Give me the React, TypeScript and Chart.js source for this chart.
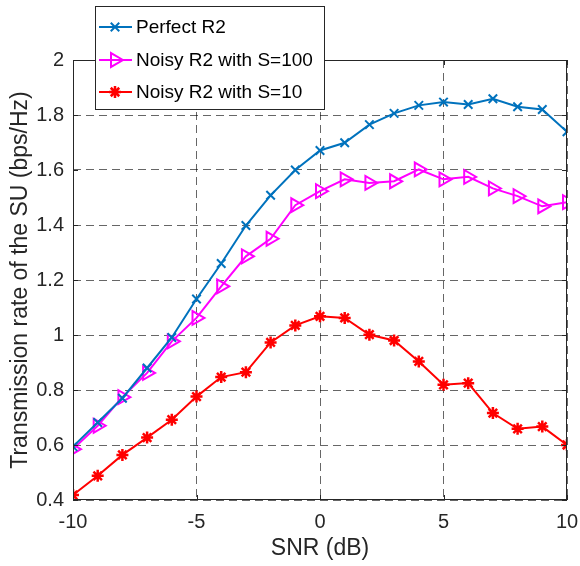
import React, { useEffect, useRef } from "react";
import { Chart, registerables } from "chart.js";

Chart.register(...registerables);

const snr = [-10, -9, -8, -7, -6, -5, -4, -3, -2, -1, 0, 1, 2, 3, 4, 5, 6, 7, 8, 9, 10];
const perfectR2 = [0.594, 0.682, 0.77, 0.88, 0.991, 1.131, 1.26, 1.398, 1.508, 1.6, 1.671, 1.699, 1.765, 1.806, 1.835, 1.847, 1.838, 1.859, 1.83, 1.82, 1.739];
const noisyS100 = [0.585, 0.67, 0.774, 0.862, 0.977, 1.062, 1.177, 1.286, 1.35, 1.472, 1.523, 1.566, 1.553, 1.559, 1.602, 1.566, 1.575, 1.533, 1.505, 1.468, 1.483];
const noisyS10 = [0.418, 0.488, 0.564, 0.627, 0.692, 0.776, 0.847, 0.865, 0.973, 1.035, 1.068, 1.062, 1.001, 0.98, 0.904, 0.819, 0.825, 0.716, 0.659, 0.667, 0.6];
const seriesLabels = ["Perfect R2", "Noisy R2 with S=100", "Noisy R2 with S=10"];
const xTicks = [-10, -5, 0, 5, 10];
const yTicks = [0.4, 0.6, 0.8, 1, 1.2, 1.4, 1.6, 1.8, 2];

const FONT = "'Liberation Sans', Arial, Helvetica, sans-serif";
const AXIS = "#262626";

function drawMarker(ctx: CanvasRenderingContext2D, style: string, x: number, y: number, r: number, rot: number, color: string) {
  ctx.save();
  ctx.strokeStyle = color;
  ctx.translate(x, y);
  ctx.rotate((rot * Math.PI) / 180);
  ctx.beginPath();
  if (style === "crossRot") {
    const d = r * Math.SQRT1_2;
    ctx.moveTo(-d, -d); ctx.lineTo(d, d);
    ctx.moveTo(-d, d); ctx.lineTo(d, -d);
  } else if (style === "star") {
    ctx.moveTo(0, -r); ctx.lineTo(0, r);
    ctx.moveTo(-r, 0); ctx.lineTo(r, 0);
    const d = r * Math.SQRT1_2;
    ctx.moveTo(-d, -d); ctx.lineTo(d, d);
    ctx.moveTo(-d, d); ctx.lineTo(d, -d);
  } else if (style === "triangle") {
    const s = (3 * r) / Math.sqrt(3);
    const h = (s * Math.sqrt(3)) / 2;
    ctx.moveTo(0, -(2 * h) / 3);
    ctx.lineTo(-s / 2, h / 3);
    ctx.lineTo(s / 2, h / 3);
    ctx.closePath();
  }
  ctx.stroke();
  ctx.restore();
}

const frameAndLegend = {
  id: "frameAndLegend",
  afterDraw(chart: any) {
    const { ctx, chartArea } = chart;
    const { left, right, top, bottom } = chartArea;
    const xs = chart.scales.x;
    const ys = chart.scales.y;
    ctx.save();
    ctx.strokeStyle = AXIS;
    ctx.lineWidth = 1;
    ctx.setLineDash([]);
    ctx.strokeRect(left + 0.5, top + 0.5, right - left - 1, bottom - top - 1);
    const tl = 5;
    ctx.beginPath();
    xTicks.forEach((v) => {
      const px = Math.round(xs.getPixelForValue(v)) + 0.5;
      ctx.moveTo(px, bottom);
      ctx.lineTo(px, bottom - tl);
      ctx.moveTo(px, top);
      ctx.lineTo(px, top + tl);
    });
    yTicks.forEach((v) => {
      const py = Math.round(ys.getPixelForValue(v)) + 0.5;
      ctx.moveTo(left, py);
      ctx.lineTo(left + tl, py);
      ctx.moveTo(right, py);
      ctx.lineTo(right - tl, py);
    });
    ctx.stroke();

    // legend
    const bx = 95.5, by = 6.5, bw = 229, bh = 103;
    ctx.fillStyle = "#ffffff";
    ctx.fillRect(bx, by, bw, bh);
    ctx.strokeStyle = AXIS;
    ctx.strokeRect(bx, by, bw, bh);
    const rows = [27, 60, 92];
    chart.data.datasets.forEach((ds: any, i: number) => {
      const y = rows[i];
      ctx.strokeStyle = ds.borderColor;
      ctx.lineWidth = 2;
      ctx.beginPath();
      ctx.moveTo(99, y);
      ctx.lineTo(132, y);
      ctx.stroke();
      ctx.lineWidth = ds.pointBorderWidth;
      drawMarker(ctx, ds.pointStyle, 115, y, ds.pointRadius, ds.pointRotation || 0, ds.borderColor);
      ctx.fillStyle = "#000000";
      ctx.font = `19px ${FONT}`;
      ctx.textBaseline = "middle";
      ctx.textAlign = "left";
      ctx.fillText(ds.label, 136, y + 1);
    });
    ctx.restore();
  },
};

export default function App() {
  const ref = useRef<HTMLCanvasElement | null>(null);
  useEffect(() => {
    if (!ref.current) return;
    const mk = (vals: number[]) => snr.map((x, i) => ({ x, y: vals[i] }));
    const chart = new Chart(ref.current, {
      type: "line",
      data: {
        datasets: [
          {
            label: seriesLabels[0],
            data: mk(perfectR2),
            borderColor: "#0072BD",
            backgroundColor: "#0072BD",
            borderWidth: 2,
            pointStyle: "crossRot",
            pointRadius: 6,
            pointBorderWidth: 2,
            pointBorderColor: "#0072BD",
          },
          {
            label: seriesLabels[1],
            data: mk(noisyS100),
            borderColor: "#FF00FF",
            backgroundColor: "rgba(0,0,0,0)",
            borderWidth: 2,
            pointStyle: "triangle",
            pointRotation: 90,
            pointRadius: 8,
            pointBorderWidth: 2,
            pointBorderColor: "#FF00FF",
            pointBackgroundColor: "rgba(0,0,0,0)",
          },
          {
            label: seriesLabels[2],
            data: mk(noisyS10),
            borderColor: "#FF0000",
            backgroundColor: "#FF0000",
            borderWidth: 2,
            pointStyle: "star",
            pointRadius: 6,
            pointBorderWidth: 2.5,
            pointBorderColor: "#FF0000",
          },
        ] as any,
      },
      options: {
        responsive: false,
        animation: false,
        events: [],
        layout: { padding: { top: 60, right: 13, left: 0, bottom: 0 } },
        plugins: { legend: { display: false }, tooltip: { enabled: false } },
        elements: { line: { tension: 0 } },
        scales: {
          x: {
            type: "linear",
            min: -10,
            max: 10,
            afterFit: (s: any) => { s.height = 66; s.paddingLeft = 0; s.paddingRight = 0; },
            afterBuildTicks: (s: any) => { s.ticks = xTicks.map((v) => ({ value: v })); },
            ticks: { color: AXIS, font: { family: FONT, size: 20 }, padding: 10, maxRotation: 0 },
            grid: { color: "rgba(0,0,0,0.6)", drawTicks: false, lineWidth: 1 },
            border: { display: false, dash: [8, 5] },
            title: { display: true, text: "SNR (dB)", color: AXIS, font: { family: FONT, size: 23 }, padding: { top: 0, bottom: 4 } },
          },
          y: {
            type: "linear",
            min: 0.4,
            max: 2,
            afterFit: (s: any) => { s.width = 73; s.paddingTop = 0; s.paddingBottom = 0; },
            afterBuildTicks: (s: any) => { s.ticks = yTicks.map((v) => ({ value: v })); },
            ticks: {
              color: AXIS,
              font: { family: FONT, size: 20 },
              padding: 9,
              callback: (v: any) => String(Number(Number(v).toFixed(1))),
            },
            grid: { color: "rgba(0,0,0,0.6)", drawTicks: false, lineWidth: 1 },
            border: { display: false, dash: [8, 5] },
            title: { display: true, text: "Transmission rate of the SU (bps/Hz)", color: AXIS, font: { family: FONT, size: 23 }, padding: { top: 7, bottom: 0 } },
          },
        },
      },
      plugins: [frameAndLegend],
    } as any);
    return () => chart.destroy();
  }, []);
  return (
    <div style={{ position: "fixed", left: 0, top: 0, width: 580, height: 566, background: "#fff" }}>
      <canvas ref={ref} width={580} height={566} style={{ width: 580, height: 566, display: "block" }} />
    </div>
  );
}
